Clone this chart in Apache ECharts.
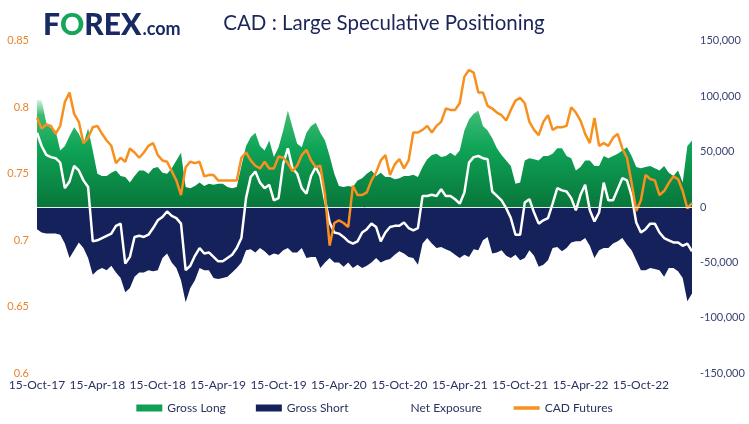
<!DOCTYPE html>
<html>
<head>
<meta charset="utf-8">
<script src="https://cdn.jsdelivr.net/npm/echarts@6/dist/echarts.min.js"></script>
<style>
  html, body { margin: 0; padding: 0; background: #fff; }
  #chart { width: 749px; height: 424px; }
</style>
</head>
<body>
<div id="chart"></div>
<script>
// fortnightly readings, contracts in thousands
const tickLabels = ['15-Oct-17', '15-Apr-18', '15-Oct-18', '15-Apr-19', '15-Oct-19', '15-Apr-20',
  '15-Oct-20', '15-Apr-21', '15-Oct-21', '15-Apr-22', '15-Oct-22'];

const grossLong = [
  96.6, 96, 76, 71, 69, 51, 55, 64, 72, 66,
  57, 71, 51, 30, 28, 28, 31, 33, 28, 27,
  22, 28, 33, 33, 30, 35, 36, 31, 30, 35,
  42, 49, 18, 17, 19, 22, 19, 21, 20, 21,
  21, 18, 17, 18, 37, 55, 63, 67, 55, 51,
  60, 45, 54, 69, 87, 72, 57, 54, 67, 73,
  76, 67, 60, 46, 30, 19, 18, 19, 18, 24,
  26, 30, 33, 28, 31, 27, 27, 25, 26, 28,
  28, 29, 27, 36, 43, 47, 48, 45, 46, 49,
  46, 51, 69, 79, 84, 87, 73, 69, 62, 53,
  47, 42, 37, 21, 22, 42, 44, 43, 42, 46,
  46, 48, 53, 53, 46, 44, 33, 36, 42, 42,
  37, 37, 46, 44, 46, 48, 51, 54, 46, 36,
  35, 36, 37, 35, 33, 37, 31, 28, 33, 22,
  55, 60
];

const grossShort = [
  -20, -23, -24, -24, -24, -25, -33, -46, -39, -32,
  -37, -46, -61, -57, -55, -57, -53, -59, -64, -77,
  -73, -63, -59, -59, -57, -58, -57, -46, -42, -50,
  -55, -66, -86, -73, -66, -55, -57, -57, -64, -65,
  -64, -63, -59, -55, -50, -39, -38, -41, -37, -40,
  -44, -42, -43, -39, -37, -41, -41, -37, -46, -45,
  -45, -55, -50, -46, -50, -50, -54, -50, -55, -52,
  -55, -53, -50, -46, -50, -48, -47, -43, -40, -42,
  -45, -46, -52, -33, -28, -33, -37, -36, -38, -40,
  -43, -46, -43, -45, -38, -39, -30, -27, -42, -41,
  -39, -44, -46, -43, -48, -46, -39, -44, -54, -52,
  -48, -37, -36, -40, -37, -32, -31, -31, -28, -35,
  -46, -39, -37, -37, -33, -31, -28, -34, -39, -48,
  -57, -57, -55, -56, -57, -63, -55, -55, -58, -64,
  -85, -78
];

const netExposure = [
  67, 55, 47, 45, 44, 40, 17, 23, 37, 33,
  24, 18, -31, -30, -28, -26, -24, -17, -15, -51,
  -45, -27, -26, -27, -25, -19, -12, -9, -4, -8,
  -10, -15, -57, -53, -44, -37, -42, -41, -45, -49,
  -49, -46, -43, -37, -28, 8, 27, 32, 22, 17,
  20, 6, 8, 39, 53, 35, 30, 17, 12, 28,
  36, 28, 6, -14, -23, -24, -27, -31, -33, -31,
  -23, -20, -15, -18, -31, -23, -18, -17, -17, -14,
  -19, -21, -19, 10, 10, 11, 10, 16, 10, 10,
  7, 3, 13, 40, 45, 46, 44, 43, 14, 10,
  6, -1, -10, -25, -25, 4, 7, -5, -15, -12,
  -10, 3, 17, 15, 14, 8, -3, 11, 20, -3,
  -13, -5, 22, 6, 6, 16, 26, 24, 10, -14,
  -23, -20, -15, -15, -23, -28, -30, -32, -32, -35,
  -33, -40
];

const cadFutures = [
  0.792, 0.784, 0.787, 0.786, 0.780, 0.786, 0.804, 0.811, 0.795, 0.789,
  0.773, 0.777, 0.785, 0.786, 0.780, 0.775, 0.771, 0.758, 0.762, 0.759,
  0.769, 0.766, 0.762, 0.766, 0.771, 0.773, 0.764, 0.760, 0.759, 0.752,
  0.745, 0.734, 0.755, 0.759, 0.758, 0.759, 0.748, 0.749, 0.749, 0.745,
  0.745, 0.745, 0.745, 0.745, 0.762, 0.766, 0.760, 0.756, 0.754, 0.759,
  0.754, 0.754, 0.763, 0.762, 0.758, 0.752, 0.756, 0.764, 0.768, 0.760,
  0.755, 0.756, 0.734, 0.696, 0.713, 0.715, 0.713, 0.710, 0.741, 0.734,
  0.734, 0.736, 0.745, 0.751, 0.760, 0.764, 0.749, 0.757, 0.761, 0.754,
  0.760, 0.781, 0.781, 0.783, 0.786, 0.781, 0.786, 0.789, 0.799, 0.798,
  0.798, 0.803, 0.823, 0.828, 0.826, 0.811, 0.811, 0.801, 0.799, 0.796,
  0.794, 0.790, 0.798, 0.805, 0.807, 0.803, 0.789, 0.783, 0.779, 0.789,
  0.794, 0.783, 0.785, 0.785, 0.786, 0.800, 0.796, 0.790, 0.780, 0.773,
  0.792, 0.771, 0.773, 0.771, 0.777, 0.780, 0.769, 0.762, 0.743, 0.722,
  0.730, 0.749, 0.746, 0.745, 0.734, 0.737, 0.743, 0.748, 0.746, 0.737,
  0.724, 0.728
];

const navy = '#14215a';
const green = '#0f9f55';
const orange = '#f7901e';
const font = 'Lato';

const weeks = grossLong.map((_, i) => i);
const labelStep = 13;

const chart = echarts.init(document.getElementById('chart'));

chart.setOption({
  animation: false,
  textStyle: { fontFamily: font },
  title: [
    {
      text: '{a|F}{b|O}{a|REX}{c|.com}',
      left: 38,
      top: 5,
      textStyle: {
        rich: {
          a: { fontFamily: font, fontWeight: 900, fontSize: 30, color: '#172a63' },
          b: { fontFamily: font, fontWeight: 900, fontSize: 30, color: '#16a659' },
          c: { fontFamily: font, fontWeight: 700, fontSize: 18, color: '#172a63', padding: [8, 0, 0, 1] }
        }
      }
    },
    {
      text: 'CAD : Large Speculative Positioning',
      left: 379,
      top: 8,
      textAlign: 'center',
      textStyle: { fontFamily: font, fontWeight: 400, fontSize: 20.5, color: '#1b2559' }
    }
  ],
  legend: {
    bottom: 5,
    left: 'center',
    itemWidth: 26,
    itemHeight: 7,
    itemGap: 30,
    textStyle: { fontFamily: font, fontSize: 12, color: '#2b3260' },
    data: [
      { name: 'Gross Long', icon: 'rect' },
      { name: 'Gross Short', icon: 'rect' },
      { name: 'Net Exposure', itemStyle: { opacity: 0 } },
      { name: 'CAD Futures', itemStyle: { opacity: 0 }, lineStyle: { width: 3.5 } }
    ]
  },
  grid: { left: 37, right: 57, top: 40.7, bottom: 50.7 },
  xAxis: {
    type: 'category',
    data: weeks,
    boundaryGap: false,
    axisLine: { show: false },
    axisTick: { show: false },
    axisLabel: {
      interval: idx => idx % labelStep === 0,
      formatter: (v, idx) => tickLabels[idx / labelStep] || '',
      margin: 6,
      fontSize: 12,
      color: '#2b3260'
    }
  },
  yAxis: [
    {
      type: 'value',
      position: 'left',
      min: 0.6,
      max: 0.85,
      interval: 0.05,
      splitLine: { show: false },
      axisLine: { show: false },
      axisTick: { show: false },
      axisLabel: {
        margin: 8,
        fontSize: 11,
        color: '#e9842c',
        formatter: v => String(+v.toFixed(2))
      }
    },
    {
      type: 'value',
      position: 'right',
      min: -150,
      max: 150,
      interval: 50,
      splitLine: { show: false },
      axisLine: { show: false },
      axisTick: { show: false },
      axisLabel: {
        margin: 8,
        fontSize: 11,
        color: '#3b4371',
        formatter: v => (v * 1000).toLocaleString('en-US')
      }
    }
  ],
  series: [
    {
      name: 'Gross Long',
      type: 'line',
      yAxisIndex: 1,
      data: grossLong,
      showSymbol: false,
      symbol: 'none',
      itemStyle: { color: green },
      lineStyle: { width: 0 },
      areaStyle: {
        opacity: 1,
        color: new echarts.graphic.LinearGradient(0, 0, 0, 1, [
          { offset: 0, color: '#d8f1e1' },
          { offset: 0.14, color: '#3cbb72' },
          { offset: 0.45, color: '#0fa457' },
          { offset: 1, color: '#08763a' }
        ])
      },
      z: 1
    },
    {
      name: 'Gross Short',
      type: 'line',
      yAxisIndex: 1,
      data: grossShort,
      showSymbol: false,
      symbol: 'none',
      itemStyle: { color: navy },
      lineStyle: { width: 0 },
      areaStyle: { opacity: 1, color: navy },
      markLine: {
        silent: true,
        symbol: 'none',
        label: { show: false },
        lineStyle: { color: '#e6efe9', width: 1, type: 'solid' },
        data: [{ yAxis: 0 }]
      },
      z: 2
    },
    {
      name: 'Net Exposure',
      type: 'line',
      yAxisIndex: 1,
      data: netExposure,
      showSymbol: false,
      symbol: 'none',
      itemStyle: { color: '#ffffff' },
      lineStyle: { color: '#ffffff', width: 2.5 },
      z: 3
    },
    {
      name: 'CAD Futures',
      type: 'line',
      yAxisIndex: 0,
      data: cadFutures,
      showSymbol: false,
      symbol: 'none',
      itemStyle: { color: orange },
      lineStyle: { color: orange, width: 2.5 },
      z: 4
    }
  ]
});
</script>
</body>
</html>
